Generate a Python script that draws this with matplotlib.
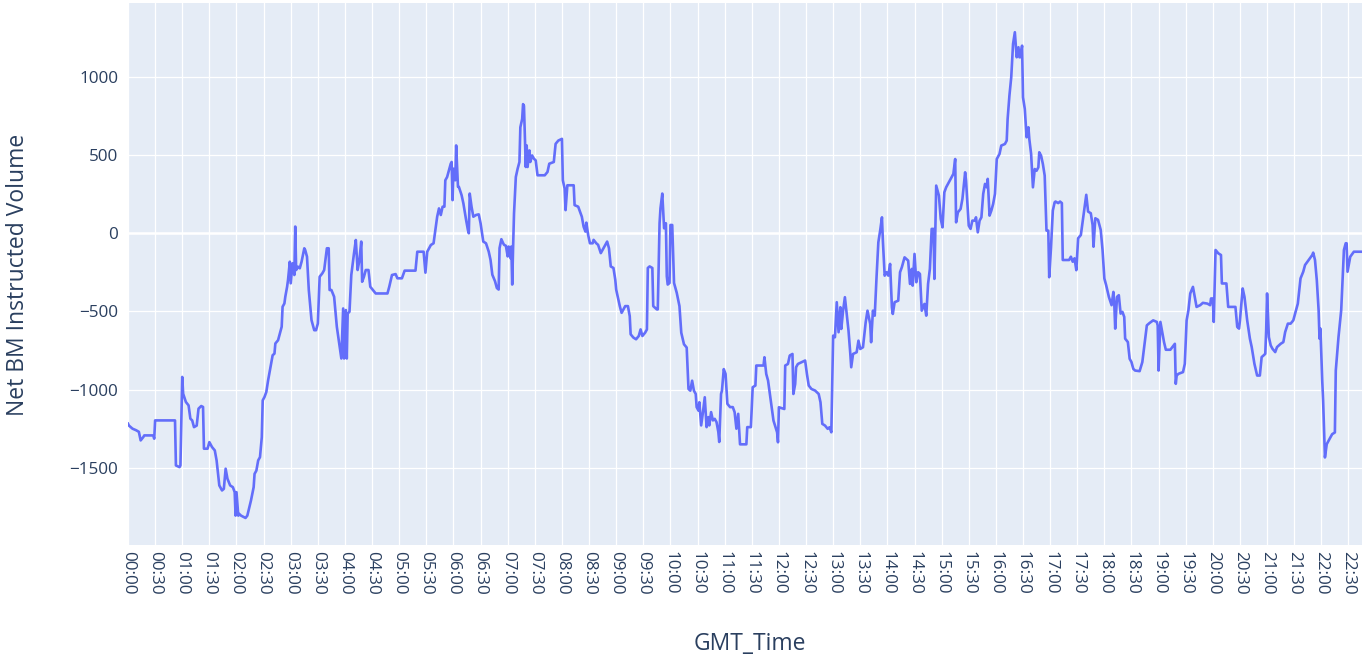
import matplotlib
matplotlib.use("Agg")
import matplotlib.pyplot as plt

# minutes since 00:00 GMT and the net BM instructed volume at that time
minute_of_day = [
    0, 1, 5, 9, 12, 14, 17, 18, 28, 29, 30, 52, 53, 57, 58, 60, 61, 64, 67, 69,
    71, 73, 76, 78, 81, 83, 84, 88, 90, 93, 96, 98, 101, 104, 106, 108, 110, 113, 116, 118,
    119, 120, 122, 123, 125, 130, 132, 136, 139, 140, 142, 144, 146, 148, 149, 151, 153, 155, 157, 159,
    160, 162, 163, 166, 168, 170, 171, 173, 174, 176, 177, 179, 180, 182, 184, 185, 186, 188, 190, 192,
    195, 196, 198, 200, 203, 206, 208, 210, 212, 215, 217, 220, 222, 223, 225, 228, 231, 235, 236, 238,
    239, 241, 242, 243, 245, 247, 250, 252, 254, 256, 258, 259, 261, 263, 266, 268, 271, 274, 287, 289,
    292, 296, 298, 303, 306, 318, 320, 327, 329, 331, 335, 338, 342, 344, 346, 348, 350, 351, 353, 355,
    357, 358, 359, 360, 362, 363, 365, 366, 369, 371, 374, 376, 377, 378, 380, 382, 385, 388, 390, 393,
    396, 399, 401, 403, 406, 408, 410, 411, 413, 415, 416, 418, 420, 421, 423, 424, 425, 426, 427, 429,
    431, 433, 434, 436, 437, 438, 440, 441, 442, 444, 445, 447, 449, 451, 453, 461, 464, 466, 471, 473,
    476, 480, 481, 483, 484, 486, 493, 494, 498, 502, 504, 506, 507, 509, 511, 514, 515, 518, 520, 523,
    525, 528, 530, 532, 534, 537, 539, 540, 544, 546, 548, 550, 553, 555, 556, 559, 562, 565, 567, 569,
    572, 574, 575, 577, 580, 581, 585, 586, 588, 589, 591, 593, 595, 596, 597, 599, 600, 602, 604, 607,
    610, 612, 615, 618, 619, 620, 622, 624, 626, 628, 629, 631, 632, 634, 636, 638, 640, 642, 643, 645,
    647, 649, 651, 653, 654, 656, 657, 659, 661, 663, 666, 669, 671, 673, 675, 677, 684, 685, 689, 691,
    694, 695, 703, 704, 706, 708, 711, 714, 718, 719, 720, 726, 727, 730, 732, 735, 736, 738, 739, 741,
    749, 751, 753, 756, 760, 764, 766, 768, 771, 774, 776, 778, 780, 782, 784, 786, 788, 789, 791, 793,
    795, 797, 799, 800, 802, 806, 808, 810, 813, 816, 818, 821, 822, 824, 826, 828, 830, 832, 834, 835,
    837, 839, 841, 843, 845, 846, 848, 852, 854, 856, 859, 863, 865, 867, 868, 870, 872, 874, 876, 878,
    881, 883, 885, 887, 889, 891, 892, 893, 894, 897, 899, 901, 903, 905, 909, 913, 915, 916, 918, 921,
    923, 926, 927, 930, 932, 934, 937, 938, 940, 942, 944, 946, 948, 950, 951, 953, 955, 957, 959, 961,
    964, 966, 970, 972, 973, 975, 977, 979, 981, 983, 985, 986, 987, 989, 990, 992, 994, 996, 997, 999,
    1001, 1003, 1005, 1007, 1008, 1010, 1012, 1014, 1016, 1018, 1019, 1021, 1023, 1025, 1026, 1029, 1031, 1033, 1034, 1041,
    1043, 1045, 1047, 1049, 1051, 1054, 1057, 1060, 1062, 1065, 1067, 1068, 1070, 1073, 1076, 1078, 1080, 1082, 1085, 1088,
    1090, 1091, 1092, 1094, 1096, 1098, 1100, 1102, 1103, 1106, 1108, 1110, 1112, 1114, 1119, 1122, 1124, 1127, 1130, 1134,
    1138, 1139, 1140, 1142, 1144, 1146, 1148, 1153, 1158, 1159, 1160, 1162, 1167, 1169, 1171, 1173, 1175, 1178, 1180, 1182,
    1186, 1189, 1194, 1197, 1198, 1200, 1201, 1203, 1206, 1209, 1210, 1215, 1217, 1225, 1227, 1229, 1230, 1233, 1235, 1238,
    1241, 1243, 1246, 1249, 1252, 1254, 1256, 1258, 1259, 1260, 1262, 1264, 1266, 1269, 1271, 1275, 1278, 1280, 1283, 1286,
    1289, 1291, 1294, 1297, 1300, 1302, 1306, 1310, 1311, 1313, 1315, 1317, 1318, 1319, 1321, 1322, 1324, 1326, 1328, 1330,
    1332, 1335, 1336, 1339, 1342, 1344, 1345, 1347, 1348, 1349, 1352, 1356, 1365,
]

net_volume = [
    -1218, -1230, -1250, -1260, -1270, -1325, -1303, -1293, -1293, -1314, -1197, -1197, -1485, -1496, -1485, -919, -1026, -1079, -1101, -1186,
    -1197, -1240, -1230, -1122, -1105, -1111, -1378, -1378, -1336, -1368, -1389, -1453, -1613, -1645, -1635, -1506, -1570, -1613, -1624, -1656,
    -1806, -1656, -1806, -1795, -1806, -1821, -1806, -1710, -1624, -1539, -1518, -1453, -1432, -1304, -1069, -1047, -1015, -940, -876, -812,
    -780, -770, -705, -684, -641, -598, -470, -449, -406, -342, -299, -182, -320, -192, -267, 43, -235, -214, -224, -182,
    -96, -107, -150, -363, -556, -620, -620, -577, -278, -256, -235, -96, -96, -363, -363, -406, -598, -759, -801, -481,
    -801, -491, -801, -513, -502, -267, -128, -43, -235, -171, -53, -310, -278, -235, -235, -342, -363, -385, -385, -342,
    -267, -261, -288, -288, -239, -239, -118, -118, -252, -118, -75, -64, 106, 159, 117, 170, 170, 339, 360, 403,
    445, 456, 212, 413, 339, 562, 297, 297, 244, 191, 85, 21, 0, 254, 170, 106, 117, 121, 64, -53,
    -64, -117, -170, -265, -307, -350, -360, -95, -38, -64, -74, -80, -148, -85, -159, -85, -328, -85, 127, 360,
    413, 456, 678, 731, 826, 815, 424, 562, 424, 530, 456, 498, 477, 466, 371, 371, 392, 445, 456, 572,
    593, 604, 339, 286, 148, 307, 307, 180, 170, 106, 42, 11, 68, -11, -64, -64, -42, -64, -74, -127,
    -106, -74, -53, -95, -212, -222, -297, -360, -466, -509, -487, -466, -466, -530, -646, -667, -678, -657, -615, -657,
    -636, -615, -222, -212, -222, -466, -487, -487, 64, 159, 254, 32, 64, -275, -328, -318, 53, 53, -318, -381,
    -466, -636, -710, -731, -869, -996, -1007, -943, -1007, -1028, -1112, -1134, -1081, -1229, -1144, -1049, -1240, -1176, -1229, -1144,
    -1197, -1187, -1208, -1271, -1335, -1028, -1007, -869, -900, -1091, -1112, -1112, -1144, -1250, -1155, -1350, -1350, -1240, -1240, -985,
    -974, -846, -846, -793, -900, -942, -1070, -1198, -1273, -1337, -1113, -1124, -846, -836, -782, -772, -1028, -964, -857, -836,
    -814, -900, -974, -996, -1006, -1028, -1081, -1219, -1230, -1251, -1241, -1273, -655, -665, -441, -633, -473, -612, -495, -409,
    -516, -623, -772, -857, -772, -761, -687, -740, -729, -569, -495, -580, -697, -495, -527, -281, -58, 17, 102, -47,
    -271, -249, -271, -196, -473, -516, -441, -431, -249, -217, -154, -175, -324, -228, -335, -132, -313, -249, -260, -495,
    -452, -527, -324, -228, 28, 28, -292, -4, 305, 241, 92, 38, 262, 294, 337, 380, 475, 70, 134, 156,
    220, 390, 337, 49, 28, 81, 81, 102, 6, 81, 102, 252, 316, 294, 348, 113, 145, 188, 252, 475,
    507, 561, 571, 593, 731, 881, 998, 1211, 1286, 1126, 1190, 1126, 1126, 1200, 870, 795, 614, 678, 603, 507,
    294, 411, 400, 422, 518, 497, 443, 369, 17, 17, -281, -90, 145, 198, 203, 193, 203, 193, -171, -171,
    -150, -182, -160, -236, -32, -11, 118, 246, 139, 128, 53, -86, 96, 86, 21, -107, -289, -332, -407, -460,
    -375, -450, -610, -407, -396, -514, -503, -535, -674, -696, -803, -824, -867, -878, -882, -824, -728, -589, -574, -557,
    -567, -589, -878, -567, -632, -696, -745, -745, -707, -963, -910, -899, -888, -835, -557, -492, -385, -343, -407, -471,
    -460, -445, -450, -460, -417, -417, -567, -107, -128, -139, -321, -321, -471, -471, -599, -610, -557, -353, -407, -557,
    -674, -728, -835, -910, -910, -792, -782, -771, -621, -385, -664, -717, -739, -760, -728, -707, -696, -632, -578, -578,
    -557, -514, -450, -289, -246, -203, -171, -139, -124, -171, -300, -492, -674, -610, -942, -1071, -1434, -1349, -1327, -1306,
    -1285, -1274, -878, -664, -492, -236, -107, -64, -64, -246, -150, -118, -118,
]

tick_minutes = list(range(0, 1351, 30))
tick_labels = ["%02d:%02d" % (m // 60, m % 60) for m in tick_minutes]
y_ticks = [-1500, -1000, -500, 0, 500, 1000]

text_color = "#2a3f5f"
plt.rcParams["font.family"] = ["Open Sans", "DejaVu Sans"]

fig = plt.figure(figsize=(13.63, 6.56), dpi=100)
ax = fig.add_axes([128 / 1363, 1 - 545 / 656, 1234 / 1363, 542 / 656])
ax.set_facecolor("#e5ecf6")
for s in ax.spines.values():
    s.set_visible(False)

ax.set_xticks(tick_minutes)
ax.set_xticklabels(tick_labels, rotation=-90, fontsize=12.3, color=text_color)
ax.set_yticks(y_ticks)
ax.set_yticklabels([("\u2212%d" % -v) if v < 0 else str(v) for v in y_ticks],
                   fontsize=12.3, color=text_color)
ax.tick_params(axis="x", length=0, pad=4)
ax.tick_params(axis="y", length=0, pad=7)
ax.grid(True, color="white", linewidth=0.9)
ax.set_axisbelow(True)
ax.axhline(0, color="white", linewidth=1.8, zorder=1)

ax.plot(minute_of_day, net_volume, color="#636efa", linewidth=1.9,
        solid_joinstyle="round", zorder=3)

ax.set_xlim(0, 1365)
ax.set_ylim(-1994, 1473)

fig.text(18 / 1363, 1 - 275 / 656, "Net BM Instructed Volume", rotation=90,
         ha="center", va="center", fontsize=16.5, color=text_color)
fig.text(750 / 1363, 1 - 644 / 656, "GMT_Time", ha="center", va="center",
         fontsize=16.5, color=text_color)

fig.savefig("out.png", dpi=100)
